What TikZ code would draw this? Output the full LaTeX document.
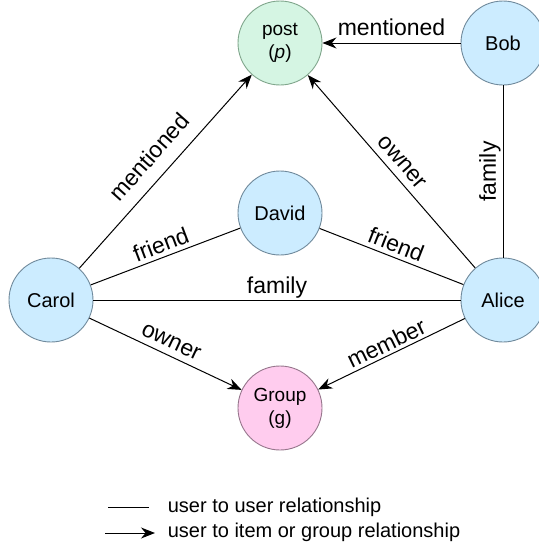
\documentclass[tikz,border=0pt]{standalone}
\usepackage{fontspec}
\setmainfont{Liberation Sans}
\usetikzlibrary{arrows.meta,positioning}

\definecolor{userfill}{RGB}{204,236,255}
\definecolor{userline}{RGB}{112,138,156}
\definecolor{postfill}{RGB}{213,245,227}
\definecolor{postline}{RGB}{128,166,140}
\definecolor{groupfill}{RGB}{255,204,238}
\definecolor{groupline}{RGB}{150,118,140}

\begin{document}
\begin{tikzpicture}[x = 1pt, y = -1pt, on grid, line width = 1pt,
  user/.style = {circle, draw = userline, fill = userfill, line width = 0.9pt, minimum size = 84pt, inner sep = 0pt, font = \fontsize{20}{23}\selectfont},
  item/.style = {user, align = center, font = \fontsize{19}{23}\selectfont},
  rel/.style = {sloped, midway, anchor = center, font = \fontsize{23}{27}\selectfont},
  arr/.style = {-{Stealth[length = 14pt, width = 11pt]}},
  key/.style = {anchor = west, font = \fontsize{20}{24}\selectfont}]
\useasboundingbox (0,0) rectangle (538,546);

\node[item, fill = postfill, draw = postline] (post) at (280,43) {post\\(\textit{p})};
\node[user, right = 223pt of post] (bob) {Bob};
\node[user, below = 170pt of post] (david) {David};
\node[user, below left = 87pt and 229pt of david] (carol) {Carol};
\node[user, below right = 87pt and 223pt of david] (alice) {Alice};
\node[item, fill = groupfill, draw = groupline, below = 195pt of david] (group) {Group\\(g)};

\path[arr] (bob) edge node[rel, yshift = 16pt]{mentioned} (post);
\path[arr] (carol) edge node[rel, yshift = 22pt]{mentioned} (post);
\path[arr] (alice) edge node[rel, yshift = 14pt]{owner} (post);
\path (alice) edge node[rel, yshift = 13pt]{family} (bob);
\path (carol) edge node[rel, yshift = 13pt]{friend} (david);
\path (david) edge node[rel, yshift = 13pt]{friend} (alice);
\path (carol) edge node[rel, yshift = 12pt]{family} (alice);
\path[arr] (carol) edge node[rel, yshift = 13pt]{owner} (group);
\path[arr] (alice) edge node[rel, yshift = 12pt]{member} (group);

% legend
\node[key] (uu) at (164,507) {user to user relationship};
\node[key] (ui) at (164,532) {user to item or group relationship};
\coordinate (k1) at (108,507);
\coordinate (k2) at (105,533);
\draw[shorten > = 15pt] (k1) -- (uu.west);
\draw[arr, shorten > = 9pt] (k2) -- (ui.west |- k2);
\end{tikzpicture}
\end{document}
